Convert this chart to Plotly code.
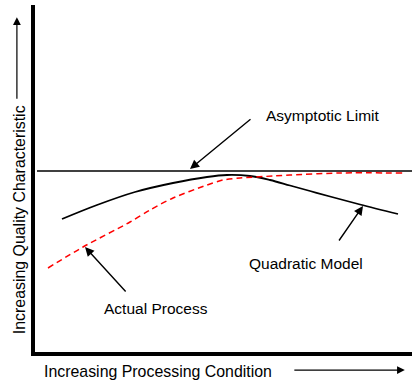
import plotly.graph_objects as go

# Data (arbitrary units)
quad_x = [27, 62, 100, 138, 172, 192, 215, 235, 255, 275, 295, 325, 363]
quad_y = [133, 147, 160, 169, 175, 177, 176, 172, 166.5, 161, 155.5, 147.5, 138]

actual_x = [13, 48, 95, 115, 138, 172, 188, 205, 238, 255, 305, 368]
actual_y = [84, 105, 130, 142, 154, 167, 172, 174, 176, 177, 179, 179]

limit_x = [2, 377]
limit_y = [181, 181]

labels = ["Asymptotic Limit", "Quadratic Model", "Actual Process"]
label_x = [288, 271, 120.5]
label_y = [237, 89, 44]
arrow_head_x = [155, 328, 50]
arrow_head_y = [183, 146, 105]
arrow_tail_x = [217, 303, 92]
arrow_tail_y = [234, 110, 59]

FONT = "Liberation Sans, Arial, sans-serif"
FS = 15.5
FT = 15.9

fig = go.Figure()
fig.add_trace(go.Scatter(x=limit_x, y=limit_y, mode="lines",
                         line=dict(color="black", width=1.3), showlegend=False))
fig.add_trace(go.Scatter(x=quad_x, y=quad_y, mode="lines",
                         line=dict(color="black", width=1.8, shape="spline", smoothing=1),
                         showlegend=False))
fig.add_trace(go.Scatter(x=actual_x, y=actual_y, mode="lines",
                         line=dict(color="#ff0000", width=1.5, dash="6px,4px",
                                   shape="spline", smoothing=0.8),
                         showlegend=False))

annotations = []
for t, x, y in zip(labels, label_x, label_y):
    annotations.append(dict(x=x, y=y, xref="x", yref="y", text=t, showarrow=False,
                            xanchor="center", yanchor="middle",
                            font=dict(family=FONT, size=FS, color="black")))
for hx, hy, tx, ty in zip(arrow_head_x, arrow_head_y, arrow_tail_x, arrow_tail_y):
    annotations.append(dict(x=hx, y=hy, ax=tx, ay=ty, xref="x", yref="y",
                            axref="x", ayref="y", text="", showarrow=True,
                            arrowhead=2, arrowsize=1.3, arrowwidth=1.4, arrowcolor="black"))

# Axis titles with arrows
annotations.append(dict(x=-0.0424, y=0.380, xref="paper", yref="paper",
                        xanchor="center", yanchor="middle",
                        text="Increasing Quality Characteristic", textangle=-90,
                        showarrow=False, font=dict(family=FONT, size=FT, color="black")))
annotations.append(dict(x=-0.048, y=0.965, xref="paper", yref="paper", ax=0, ay=83,
                        text="", showarrow=True, arrowhead=2, arrowsize=1.3,
                        arrowwidth=1.2, arrowcolor="black"))
annotations.append(dict(x=0.325, y=-0.0548, xref="paper", yref="paper",
                        xanchor="center", yanchor="middle",
                        text="Increasing Processing Condition",
                        showarrow=False, font=dict(family=FONT, size=FT, color="black")))
annotations.append(dict(x=0.981, y=-0.052, xref="paper", yref="paper", ax=-112, ay=0,
                        text="", showarrow=True, arrowhead=2, arrowsize=1.3,
                        arrowwidth=1.2, arrowcolor="black"))

fig.update_layout(
    width=412, height=381,
    margin=dict(l=35, r=0, t=5, b=29, autoexpand=False),
    plot_bgcolor="white", paper_bgcolor="white",
    annotations=annotations,
    xaxis=dict(range=[0, 377], showgrid=False, zeroline=False, showticklabels=False,
               ticks="", showline=True, linewidth=4, linecolor="black"),
    yaxis=dict(range=[0, 347], showgrid=False, zeroline=False, showticklabels=False,
               ticks="", showline=True, linewidth=4, linecolor="black"),
)

fig.write_html("out.html", config={"displayModeBar": False},
               post_script="document.body.style.margin='0';document.body.style.padding='0';")
